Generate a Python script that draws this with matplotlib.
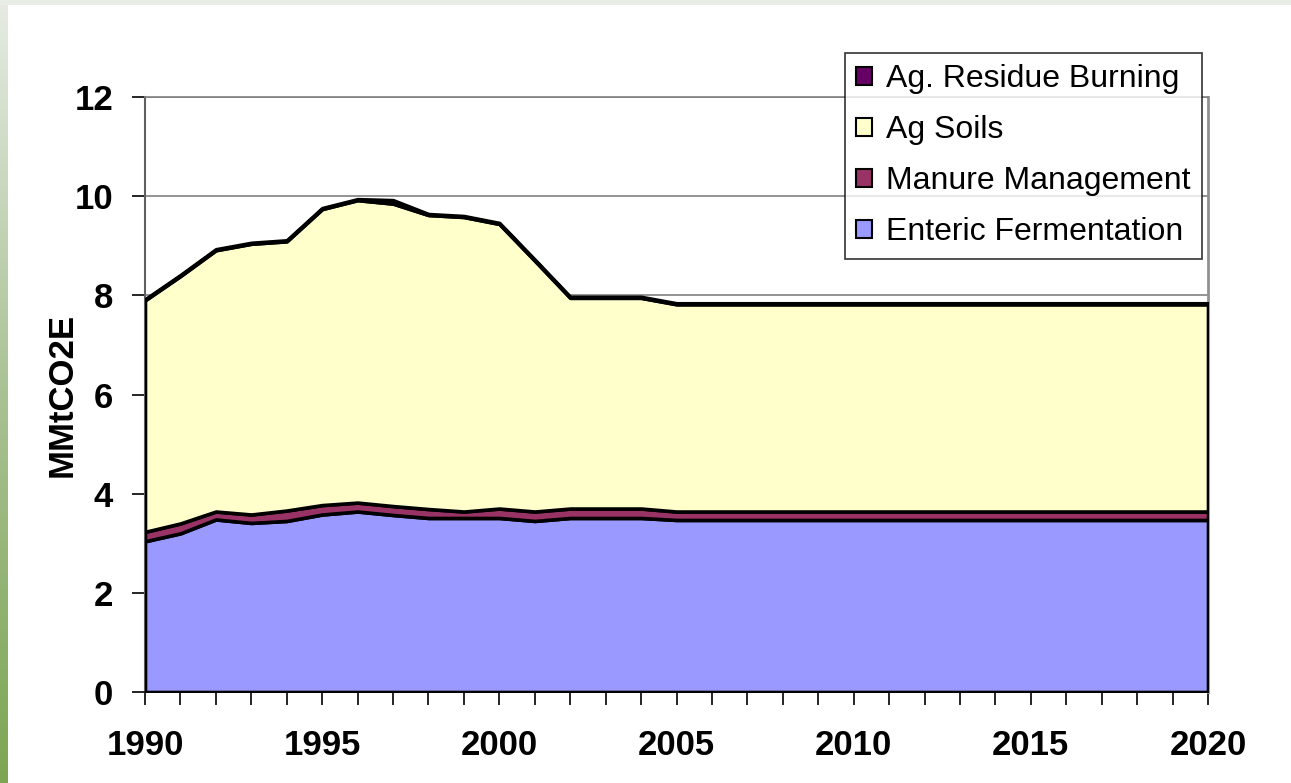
import numpy as np
import matplotlib
matplotlib.use("Agg")
import matplotlib.pyplot as plt
from matplotlib.patches import Patch, Rectangle

plt.rcParams['font.family'] = ['Liberation Sans', 'DejaVu Sans']

# --- data (MMtCO2E) ---
years = list(range(1990, 2021))
enteric = [3.04, 3.20, 3.48, 3.41, 3.45, 3.58, 3.64, 3.57, 3.51, 3.51, 3.51,
           3.45, 3.51, 3.51, 3.51, 3.47, 3.47, 3.47, 3.47, 3.47, 3.47, 3.47,
           3.47, 3.47, 3.47, 3.47, 3.47, 3.47, 3.47, 3.47, 3.47]
manure = [0.19, 0.20, 0.16, 0.17, 0.21, 0.19, 0.18, 0.18, 0.18, 0.13, 0.19,
          0.19, 0.19, 0.19, 0.19, 0.17, 0.17, 0.17, 0.17, 0.17, 0.17, 0.17,
          0.17, 0.17, 0.17, 0.17, 0.17, 0.17, 0.17, 0.17, 0.17]
ag_soils = [4.67, 4.99, 5.27, 5.46, 5.43, 5.97, 6.10, 6.10, 5.93, 5.94, 5.74,
            5.06, 4.25, 4.25, 4.25, 4.18, 4.18, 4.18, 4.18, 4.18, 4.18, 4.18,
            4.18, 4.18, 4.18, 4.18, 4.18, 4.18, 4.18, 4.18, 4.18]
residue = [0.02, 0.02, 0.02, 0.02, 0.02, 0.02, 0.02, 0.07, 0.02, 0.02, 0.02,
           0.02, 0.02, 0.02, 0.02, 0.02, 0.02, 0.02, 0.02, 0.02, 0.02, 0.02,
           0.02, 0.02, 0.02, 0.02, 0.02, 0.02, 0.02, 0.02, 0.02]

labels = ['Enteric Fermentation', 'Manure Management', 'Ag Soils', 'Ag. Residue Burning']
colors = ['#9999ff', '#993366', '#ffffcc', '#660066']
xtick_labels = ['1990', '1995', '2000', '2005', '2010', '2015', '2020']

W, H = 1291, 783
fig = plt.figure(figsize=(W / 100, H / 100), dpi=100)
fig.patch.set_facecolor('white')

# slide decoration: light top band and green gradient strip on the left
fig.patches.append(Rectangle((0, 1 - 5 / H), 1, 5 / H, transform=fig.transFigure,
                             facecolor='#e8ede6', edgecolor='none', zorder=0))
strip = fig.add_axes([0, 0, 8 / W, 1])
grad = np.linspace(0, 1, 256).reshape(-1, 1)
cmap = matplotlib.colors.LinearSegmentedColormap.from_list('g', ['#e6ebe3', '#a9c294', '#7ca653'])
strip.imshow(grad, aspect='auto', cmap=cmap, extent=[0, 1, 0, 1], origin='upper')
strip.axis('off')

ax = fig.add_axes([145 / W, 1 - 692 / H, (1208 - 145) / W, (692 - 97) / H])

ax.stackplot(years, enteric, manure, ag_soils, residue, colors=colors,
             edgecolor='black', linewidth=2.6, zorder=3)

ax.set_xlim(1990, 2020)
ax.set_ylim(0, 12)
ax.set_yticks(range(0, 13, 2))
ax.set_xticks(years)
ax.set_xticklabels([str(y) if str(y) in xtick_labels else '' for y in years])
ax.yaxis.grid(True, color='#808080', linewidth=1.2, zorder=0)
ax.set_axisbelow(True)

ax.tick_params(axis='both', direction='out', length=9.5, width=1.2, color='black',
               labelsize=25)
ax.tick_params(axis='x', pad=17)
ax.tick_params(axis='y', pad=13.5)
for lab in ax.get_xticklabels() + ax.get_yticklabels():
    lab.set_fontweight('bold')

ax.spines['left'].set_color('#606060')
ax.spines['left'].set_linewidth(1.5)
ax.spines['bottom'].set_color('black')
ax.spines['bottom'].set_linewidth(1.2)
ax.spines['top'].set_color('#808080')
ax.spines['top'].set_linewidth(1.2)
ax.spines['right'].set_color('#909090')
ax.spines['right'].set_linewidth(2)

ax.set_ylabel('MMtCO2E', fontsize=25, fontweight='bold', labelpad=-3)

handles = [Patch(facecolor=c, edgecolor='black', linewidth=1.5) for c in colors[::-1]]
leg = ax.legend(handles, labels[::-1], loc='upper right',
                bbox_to_anchor=(1202 / W, 1 - 53 / H), bbox_transform=fig.transFigure,
                fontsize=23, frameon=True, fancybox=False, edgecolor='black',
                handlelength=0.5, handleheight=0.5, handletextpad=0.45,
                labelspacing=0.66, borderpad=0.35, borderaxespad=0)
leg.get_frame().set_linewidth(1.2)
leg.set_zorder(10)

fig.savefig('out.png', dpi=100)
